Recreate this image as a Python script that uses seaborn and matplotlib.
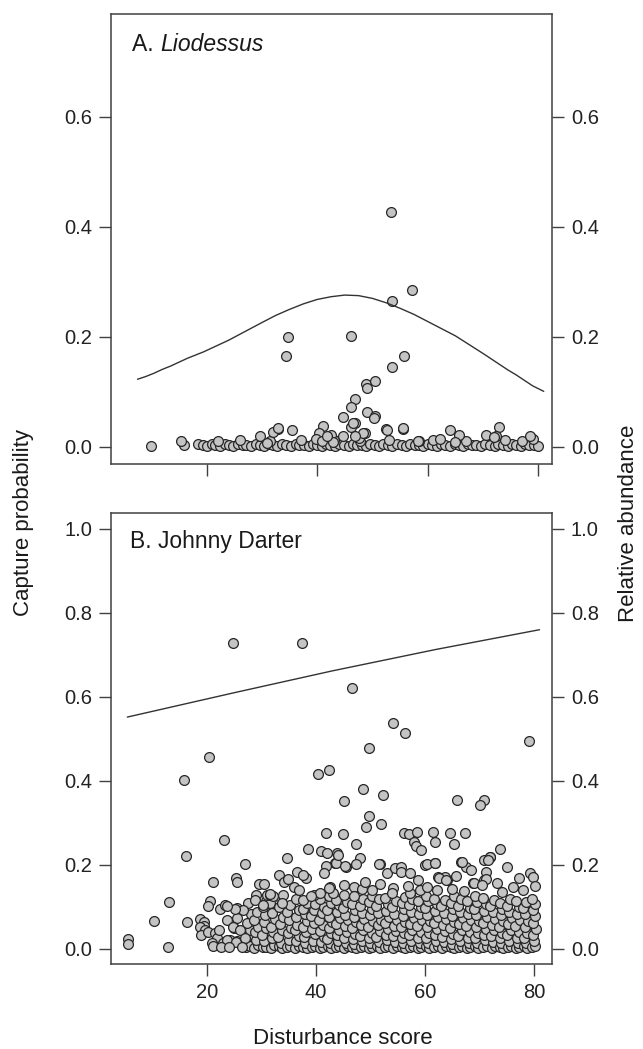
import matplotlib
matplotlib.use("Agg")
import matplotlib.pyplot as plt
from matplotlib.ticker import FormatStrFormatter
import pandas as pd
import seaborn as sns

# ---- Panel A: Liodessus -------------------------------------------------
# fitted capture-probability curve
lio_curve_x = [7.5, 9, 10.5, 12, 13.5, 15, 16.5, 18, 19.5, 21, 22.5, 24, 25.5, 27, 28.5, 30,
               32.5, 35, 37.5, 40, 42.5, 45, 47.5, 50, 52.5, 55, 57.5, 60, 62.5, 65, 67.5,
               70, 71.5, 73, 74.5, 76, 77.5, 79, 80, 81]
lio_curve_y = [0.123, 0.128, 0.134, 0.141, 0.147, 0.154, 0.161, 0.167, 0.173, 0.180, 0.187,
               0.194, 0.202, 0.210, 0.218, 0.226, 0.239, 0.250, 0.260, 0.268, 0.273, 0.276,
               0.275, 0.270, 0.262, 0.252, 0.241, 0.228, 0.215, 0.202, 0.186, 0.170, 0.160,
               0.150, 0.140, 0.131, 0.121, 0.111, 0.106, 0.101]

# relative abundance at sites, points away from zero
lio_upper = [
    (53.3, 0.427), (57.2, 0.285), (53.6, 0.265), (34.8, 0.200), (46.1, 0.202),
    (34.3, 0.165), (55.7, 0.166), (53.6, 0.146), (48.8, 0.115), (50.4, 0.120),
    (49.0, 0.108), (46.9, 0.088), (46.1, 0.072), (44.7, 0.055), (49.0, 0.064),
    (50.5, 0.056), (50.2, 0.052), (46.9, 0.044), (46.2, 0.037), (41.0, 0.038),
    (32.9, 0.032), (32.1, 0.027), (35.4, 0.030), (29.7, 0.020), (40.4, 0.025),
    (42.5, 0.022), (44.7, 0.020), (48.6, 0.025), (52.4, 0.033), (52.6, 0.031),
    (55.5, 0.033), (64.1, 0.030), (65.6, 0.021), (72.9, 0.037), (70.5, 0.021),
    (72.3, 0.019), (78.5, 0.019), (62.2, 0.014), (64.9, 0.009), (58.3, 0.011),
    (47.5, 0.017), (42.9, 0.009), (39.8, 0.015), (40.9, 0.010), (15.4, 0.011),
    (46.5, 0.043), (48.3, 0.025), (46.8, 0.019), (55.6, 0.034), (72.0, 0.018),
    (41.7, 0.019), (30.9, 0.007), (33.0, 0.034),
]
# sites with (near) zero abundance
lio_zero = [
    (9.9, 0.002), (15.9, 0.004), (18.5, 0.006), (19.3, 0.003), (20.0, 0.002), (20.9, 0.006),
    (21.6, 0.004), (22.4, 0.002), (23.3, 0.005), (24.0, 0.003), (24.8, 0.002), (25.7, 0.006),
    (26.5, 0.003), (27.2, 0.004), (28.0, 0.002), (28.9, 0.005), (29.6, 0.003), (30.4, 0.002),
    (31.3, 0.006), (32.0, 0.004), (32.8, 0.002), (33.7, 0.005), (34.4, 0.003), (35.2, 0.002),
    (36.1, 0.006), (36.8, 0.003), (37.6, 0.004), (38.5, 0.002), (39.2, 0.005), (40.0, 0.003),
    (40.9, 0.002), (41.6, 0.006), (42.4, 0.004), (43.3, 0.002), (44.0, 0.005), (44.8, 0.003),
    (45.7, 0.002), (46.4, 0.006), (47.2, 0.003), (48.1, 0.004), (48.8, 0.002), (49.6, 0.005),
    (50.5, 0.003), (51.2, 0.002), (52.0, 0.006), (52.9, 0.004), (53.6, 0.002), (54.4, 0.005),
    (55.3, 0.003), (56.0, 0.002), (56.8, 0.006), (57.7, 0.003), (58.4, 0.004), (59.2, 0.002),
    (60.1, 0.005), (60.8, 0.003), (61.6, 0.002), (62.5, 0.006), (63.2, 0.004), (64.0, 0.002),
    (64.9, 0.005), (65.6, 0.003), (66.4, 0.002), (67.3, 0.006), (68.0, 0.003), (68.8, 0.004),
    (69.7, 0.002), (70.4, 0.005), (71.2, 0.003), (72.1, 0.002), (72.8, 0.006), (73.6, 0.004),
    (74.5, 0.002), (75.2, 0.005), (76.0, 0.003), (76.9, 0.002), (77.6, 0.006), (78.4, 0.003),
    (79.3, 0.004), (80.0, 0.002), (22.0, 0.010), (26.0, 0.012), (31.5, 0.011), (37.0, 0.013),
    (43.0, 0.012), (47.8, 0.010), (53.0, 0.012), (58.5, 0.011), (61.0, 0.013), (67.0, 0.010),
    (74.0, 0.012), (77.0, 0.011), (79.0, 0.014),
]

# ---- Panel B: Johnny Darter ---------------------------------------------
jd_curve_x = [5.4, 25, 43, 62, 81]
jd_curve_y = [0.552, 0.610, 0.662, 0.713, 0.760]

jd_high = [
    (5.5, 0.024), (5.6, 0.011), (10.2, 0.067), (12.8, 0.005), (13.0, 0.111), (15.8, 0.402),
    (16.1, 0.222), (16.4, 0.063), (20.3, 0.456), (24.8, 0.728), (37.5, 0.728), (46.6, 0.621),
    (54.1, 0.537), (56.4, 0.514), (79.0, 0.495), (49.8, 0.479), (40.4, 0.416), (42.4, 0.427),
    (48.7, 0.380), (52.3, 0.367), (45.1, 0.351), (65.9, 0.354), (70.8, 0.355), (70.1, 0.343),
    (49.8, 0.317), (49.2, 0.290), (51.9, 0.297), (23.2, 0.260), (41.8, 0.275), (44.9, 0.274),
    (47.3, 0.249), (56.1, 0.275), (57.0, 0.273), (58.5, 0.279), (57.9, 0.254), (58.3, 0.244),
    (59.3, 0.235), (61.5, 0.279), (61.9, 0.255), (64.5, 0.276), (67.3, 0.275), (65.4, 0.250),
    (73.8, 0.237), (38.5, 0.237), (41.0, 0.233), (42.1, 0.229), (44.0, 0.224), (34.7, 0.216),
    (71.9, 0.218), (71.5, 0.212),
]
jd_left = [
    (18.7, 0.071), (19.5, 0.065), (19.4, 0.055), (18.8, 0.053), (19.7, 0.045), (18.9, 0.033),
    (20.2, 0.041), (21.5, 0.037), (21.8, 0.025), (20.9, 0.014), (21.2, 0.007), (23.0, 0.014),
    (20.6, 0.114), (20.2, 0.103), (22.4, 0.095), (23.4, 0.105), (21.2, 0.160), (25.3, 0.168),
    (25.5, 0.160), (26.9, 0.202), (25.5, 0.097), (26.7, 0.093), (25.5, 0.073), (24.9, 0.049),
    (24.3, 0.021), (25.5, 0.020), (23.6, 0.069), (24.8, 0.053), (26.1, 0.045), (23.6, 0.021),
    (25.4, 0.017), (26.9, 0.025), (22.6, 0.005), (24.0, 0.004), (26.4, 0.005), (25.2, 0.095),
    (23.6, 0.103), (22.3, 0.045),
]
jd_mid = [
    (48.0, 0.216), (47.4, 0.203), (45.6, 0.196), (43.5, 0.204), (41.8, 0.198), (41.4, 0.180),
    (33.3, 0.176), (36.5, 0.182), (38.2, 0.168), (37.7, 0.175), (35.9, 0.148), (34.2, 0.160),
    (29.5, 0.154), (30.5, 0.154), (31.0, 0.129), (28.9, 0.117), (30.2, 0.105), (31.6, 0.129),
    (32.2, 0.125), (34.0, 0.129), (33.7, 0.109), (37.6, 0.117), (39.6, 0.129), (40.8, 0.134),
    (42.6, 0.148), (45.1, 0.152), (46.9, 0.148), (48.4, 0.142), (50.2, 0.140), (51.8, 0.154),
    (51.7, 0.202), (53.0, 0.180), (54.5, 0.192), (55.6, 0.196), (55.6, 0.183), (57.3, 0.180),
    (60.0, 0.200), (61.8, 0.204), (62.3, 0.172), (64.0, 0.164), (63.7, 0.172), (65.7, 0.174),
    (66.6, 0.206), (67.5, 0.196), (68.5, 0.189), (70.9, 0.212), (71.1, 0.183), (70.8, 0.164),
    (68.8, 0.156), (73.2, 0.156), (75.0, 0.196), (77.2, 0.170), (79.3, 0.180), (79.9, 0.172),
    (80.2, 0.149), (76.1, 0.148), (54.2, 0.144), (53.9, 0.133), (59.1, 0.140), (60.4, 0.148),
    (62.2, 0.140), (57.3, 0.133), (45.1, 0.129), (46.9, 0.125), (43.2, 0.133), (43.8, 0.228),
    (43.7, 0.205), (45.3, 0.198), (51.6, 0.201), (60.4, 0.201), (61.9, 0.205), (62.5, 0.168),
    (66.8, 0.208), (72.0, 0.220), (71.1, 0.166), (63.9, 0.165), (68.9, 0.157), (70.4, 0.153),
    (34.9, 0.166), (31.5, 0.131), (39.1, 0.125), (42.3, 0.144), (49.0, 0.160), (56.8, 0.150),
    (65.0, 0.143), (74.2, 0.135), (78.0, 0.140), (36.8, 0.140), (58.8, 0.163), (67.2, 0.138),
]
jd_dense = [
    (27.2, 0.004), (27.9, 0.008), (27.5, 0.030), (27.9, 0.045), (27.3, 0.062), (28.0, 0.082), (27.6, 0.110),
    (28.7, 0.003), (29.3, 0.010), (29.0, 0.021), (28.8, 0.040), (29.4, 0.052), (28.6, 0.069), (29.2, 0.088), (29.0, 0.128),
    (30.2, 0.005), (30.8, 0.004), (30.5, 0.018), (30.1, 0.034), (30.9, 0.049), (30.4, 0.065), (30.7, 0.080), (30.3, 0.099), (30.9, 0.113),
    (31.7, 0.003), (32.3, 0.009), (31.9, 0.026), (32.2, 0.040), (31.8, 0.053), (32.4, 0.071), (32.0, 0.086), (31.6, 0.110),
    (33.2, 0.006), (33.8, 0.003), (33.5, 0.015), (33.1, 0.029), (33.7, 0.044), (33.4, 0.060), (33.9, 0.076), (33.3, 0.099), (33.6, 0.118),
    (34.7, 0.004), (35.3, 0.008), (35.0, 0.022), (34.8, 0.037), (35.4, 0.049), (35.1, 0.069), (34.6, 0.088), (35.3, 0.104),
    (36.2, 0.003), (36.8, 0.006), (36.4, 0.018), (36.9, 0.030), (36.1, 0.045), (36.6, 0.058), (36.3, 0.075), (36.9, 0.093), (36.4, 0.118),
    (37.7, 0.005), (38.3, 0.003), (38.0, 0.014), (37.8, 0.028), (38.2, 0.041), (37.6, 0.053), (38.4, 0.066), (38.0, 0.082), (37.7, 0.095), (38.3, 0.110),
    (39.2, 0.004), (39.8, 0.008), (39.4, 0.020), (39.9, 0.035), (39.3, 0.048), (39.7, 0.062), (39.1, 0.078), (39.6, 0.092), (39.9, 0.108),
    (40.7, 0.003), (41.3, 0.005), (40.9, 0.016), (41.4, 0.029), (40.8, 0.043), (41.2, 0.056), (40.6, 0.070), (41.1, 0.085), (41.4, 0.100), (40.8, 0.120),
    (42.2, 0.006), (42.8, 0.003), (42.5, 0.013), (42.1, 0.024), (42.7, 0.037), (42.3, 0.050), (42.9, 0.063), (42.4, 0.077), (42.0, 0.092), (42.7, 0.110), (42.3, 0.125),
    (43.7, 0.004), (44.3, 0.008), (44.0, 0.020), (43.8, 0.033), (44.2, 0.046), (43.6, 0.060), (44.4, 0.073), (43.9, 0.089), (44.2, 0.104), (43.7, 0.116),
    (45.2, 0.003), (45.8, 0.006), (45.5, 0.015), (45.1, 0.027), (45.7, 0.040), (45.3, 0.054), (45.9, 0.068), (45.4, 0.081), (45.0, 0.097), (45.7, 0.112),
    (46.7, 0.005), (47.3, 0.003), (47.0, 0.012), (46.8, 0.023), (47.2, 0.036), (46.6, 0.049), (47.4, 0.063), (46.9, 0.076), (47.2, 0.092), (46.7, 0.107),
    (48.2, 0.004), (48.8, 0.007), (48.5, 0.018), (48.1, 0.031), (48.7, 0.044), (48.3, 0.058), (48.9, 0.071), (48.4, 0.085), (48.0, 0.101), (48.6, 0.118),
    (49.7, 0.003), (50.3, 0.005), (50.0, 0.014), (49.8, 0.026), (50.2, 0.039), (49.6, 0.052), (50.4, 0.066), (49.9, 0.080), (50.2, 0.096), (49.7, 0.112), (50.3, 0.126),
    (51.2, 0.006), (51.8, 0.003), (51.5, 0.016), (51.1, 0.029), (51.7, 0.042), (51.3, 0.057), (51.9, 0.070), (51.4, 0.086), (51.0, 0.103), (51.6, 0.118),
    (52.7, 0.004), (53.3, 0.008), (53.0, 0.021), (52.8, 0.034), (53.2, 0.047), (52.6, 0.061), (53.4, 0.075), (52.9, 0.090), (53.2, 0.108), (52.7, 0.121),
    (54.2, 0.003), (54.8, 0.006), (54.5, 0.017), (54.1, 0.030), (54.7, 0.043), (54.3, 0.055), (54.9, 0.069), (54.4, 0.083), (54.0, 0.099), (54.6, 0.114),
    (55.7, 0.005), (56.3, 0.003), (56.0, 0.013), (55.8, 0.025), (56.2, 0.038), (55.6, 0.051), (56.4, 0.065), (55.9, 0.079), (56.2, 0.095), (55.7, 0.110), (56.3, 0.124),
    (57.2, 0.004), (57.8, 0.007), (57.5, 0.019), (57.1, 0.032), (57.7, 0.046), (57.3, 0.060), (57.9, 0.074), (57.4, 0.089), (57.0, 0.104), (57.6, 0.118),
    (58.7, 0.003), (59.3, 0.005), (59.0, 0.015), (58.8, 0.027), (59.2, 0.041), (58.6, 0.054), (59.4, 0.068), (58.9, 0.084), (59.2, 0.099), (58.7, 0.115),
    (60.2, 0.006), (60.8, 0.003), (60.5, 0.014), (60.1, 0.026), (60.7, 0.039), (60.3, 0.052), (60.9, 0.066), (60.4, 0.081), (60.0, 0.097), (60.6, 0.113), (60.2, 0.126),
    (61.7, 0.004), (62.3, 0.008), (62.0, 0.020), (61.8, 0.033), (62.2, 0.047), (61.6, 0.061), (62.4, 0.076), (61.9, 0.091), (62.2, 0.106), (61.7, 0.120),
    (63.2, 0.003), (63.8, 0.006), (63.5, 0.017), (63.1, 0.029), (63.7, 0.043), (63.3, 0.057), (63.9, 0.071), (63.4, 0.086), (63.0, 0.101), (63.6, 0.116),
    (64.7, 0.005), (65.3, 0.003), (65.0, 0.012), (64.8, 0.024), (65.2, 0.036), (64.6, 0.050), (65.4, 0.064), (64.9, 0.078), (65.2, 0.094), (64.7, 0.109), (65.3, 0.125),
    (66.2, 0.004), (66.8, 0.007), (66.5, 0.018), (66.1, 0.031), (66.7, 0.045), (66.3, 0.059), (66.9, 0.073), (66.4, 0.088), (66.0, 0.103), (66.6, 0.120),
    (67.7, 0.003), (68.3, 0.005), (68.0, 0.015), (67.8, 0.027), (68.2, 0.040), (67.6, 0.054), (68.4, 0.068), (67.9, 0.082), (68.2, 0.097), (67.7, 0.113),
    (69.2, 0.006), (69.8, 0.003), (69.5, 0.014), (69.1, 0.026), (69.7, 0.039), (69.3, 0.053), (69.9, 0.067), (69.4, 0.081), (69.0, 0.096), (69.6, 0.111), (69.2, 0.127),
    (70.7, 0.004), (71.3, 0.008), (71.0, 0.021), (70.8, 0.034), (71.2, 0.048), (70.6, 0.062), (71.4, 0.076), (70.9, 0.091), (71.2, 0.106), (70.7, 0.121),
    (72.2, 0.003), (72.8, 0.006), (72.5, 0.017), (72.1, 0.030), (72.7, 0.044), (72.3, 0.058), (72.9, 0.072), (72.4, 0.087), (72.0, 0.102), (72.6, 0.117),
    (73.7, 0.005), (74.3, 0.003), (74.0, 0.013), (73.8, 0.025), (74.2, 0.038), (73.6, 0.052), (74.4, 0.066), (73.9, 0.080), (74.2, 0.095), (73.7, 0.110),
    (75.2, 0.004), (75.8, 0.007), (75.5, 0.019), (75.1, 0.032), (75.7, 0.045), (75.3, 0.059), (75.9, 0.073), (75.4, 0.088), (75.0, 0.103), (75.6, 0.120),
    (76.7, 0.003), (77.3, 0.005), (77.0, 0.015), (76.8, 0.027), (77.2, 0.041), (76.6, 0.055), (77.4, 0.069), (76.9, 0.084), (77.2, 0.099), (76.7, 0.114),
    (78.2, 0.006), (78.8, 0.003), (78.5, 0.014), (78.1, 0.026), (78.7, 0.039), (78.3, 0.053), (78.9, 0.067), (78.4, 0.082), (78.0, 0.097), (78.6, 0.112),
    (79.7, 0.004), (80.2, 0.008), (80.0, 0.020), (79.8, 0.033), (80.3, 0.047), (79.9, 0.062), (80.1, 0.078), (79.8, 0.092), (80.2, 0.106), (79.6, 0.120),
]

x_ticks = [20, 40, 60, 80]
lio_yticks = [0.0, 0.2, 0.4, 0.6]
jd_yticks = [0.0, 0.2, 0.4, 0.6, 0.8, 1.0]

sns.set_theme(style="ticks")
plt.rcParams["font.family"] = ["Liberation Sans", "DejaVu Sans"]

FILL = "#c4c4c4"
EDGE = "#262626"
AXIS = "#404040"


def style_axes(ax):
    for sp in ax.spines.values():
        sp.set_color(AXIS)
        sp.set_linewidth(1.1)
    ax.tick_params(axis="both", which="both", direction="out", length=8.5, width=1.0,
                   color=AXIS, labelsize=14.5, labelcolor="#222222", pad=5,
                   left=True, right=True, labelleft=True, labelright=True,
                   top=False, bottom=True)
    ax.yaxis.set_major_formatter(FormatStrFormatter("%.1f"))
    ax.set_xlabel("")
    ax.set_ylabel("")


def draw_points(ax, pts):
    df = pd.DataFrame(pts, columns=["score", "abund"])
    sns.scatterplot(data=df, x="score", y="abund", ax=ax, s=50, color=FILL,
                    edgecolor=EDGE, linewidth=0.9, zorder=3)


fig = plt.figure(figsize=(6.43, 10.49), dpi=100)
axA = fig.add_axes([0.1726, 0.5577, 0.6859, 0.4290])
axB = fig.add_axes([0.1726, 0.0810, 0.6859, 0.4300])

# panel A
draw_points(axA, lio_zero + lio_upper)
sns.lineplot(x=lio_curve_x, y=lio_curve_y, ax=axA, color="#333333", linewidth=1.0,
             estimator=None, sort=False, zorder=4)
axA.set_xlim(2.7, 82.5)
axA.set_ylim(-0.031, 0.787)
axA.set_xticks(x_ticks)
axA.set_yticks(lio_yticks)
style_axes(axA)
axA.tick_params(axis="x", labelbottom=False)
tA = axA.text(0.048, 0.918, "A. ", transform=axA.transAxes, fontsize=16.5,
              color="#1a1a1a", va="baseline", ha="left")
axA.annotate("Liodessus", xy=(1, 0), xycoords=tA, fontsize=16.5, style="italic",
             color="#1a1a1a", va="bottom", ha="left")

# panel B
draw_points(axB, jd_dense + jd_mid + jd_left + jd_high)
sns.lineplot(x=jd_curve_x, y=jd_curve_y, ax=axB, color="#333333", linewidth=1.0,
             estimator=None, sort=False, zorder=4)
axB.set_xlim(2.4, 83.3)
axB.set_ylim(-0.036, 1.038)
axB.set_xticks(x_ticks)
axB.set_yticks(jd_yticks)
style_axes(axB)
axB.xaxis.set_major_formatter(FormatStrFormatter("%d"))
axB.text(0.043, 0.922, "B. Johnny Darter", transform=axB.transAxes, fontsize=16.5,
         color="#1a1a1a", va="baseline", ha="left")

fig.text(24 / 643, 1 - 523 / 1049, "Capture probability", rotation=90, fontsize=16,
         color="#1a1a1a", ha="center", va="center")
fig.text(628 / 643, 1 - 523 / 1049, "Relative abundance", rotation=90, fontsize=16,
         color="#1a1a1a", ha="center", va="center")
fig.text(343 / 643, 1 - 1038 / 1049, "Disturbance score", fontsize=16,
         color="#1a1a1a", ha="center", va="center")

fig.savefig("out.png", dpi=100, facecolor="white")
